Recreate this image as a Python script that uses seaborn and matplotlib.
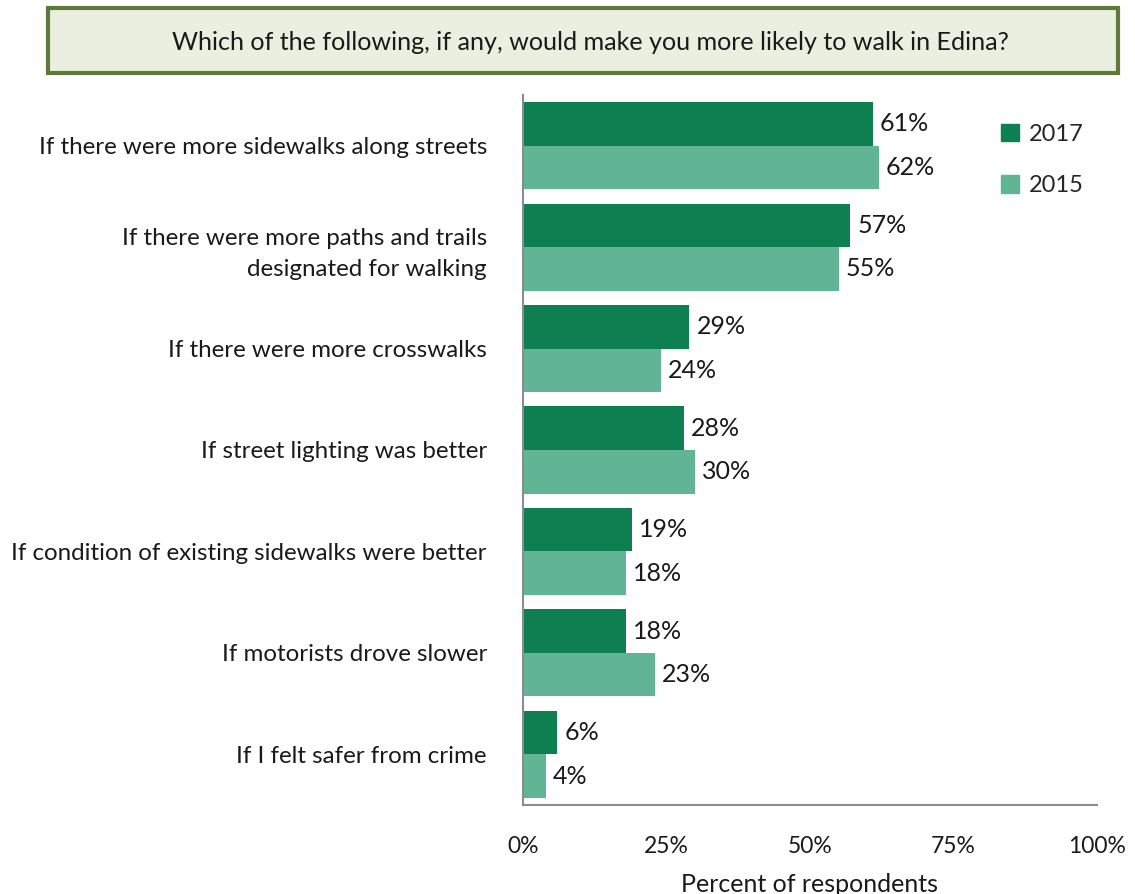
import matplotlib
matplotlib.use("Agg")
import matplotlib.pyplot as plt
import matplotlib.patches as mpatches
import seaborn as sns
import pandas as pd

categories = [
    "If there were more sidewalks along streets",
    "If there were more paths and trails\ndesignated for walking",
    "If there were more crosswalks",
    "If street lighting was better",
    "If condition of existing sidewalks were better",
    "If motorists drove slower",
    "If I felt safer from crime",
]
values_2017 = [61, 57, 29, 28, 19, 18, 6]
values_2015 = [62, 55, 24, 30, 18, 23, 4]
years = ["2017", "2015"]
colors = ["#0E7F50", "#62B594"]
x_ticks = [0, 25, 50, 75, 100]

df = pd.DataFrame({
    "category": categories * 2,
    "year": [years[0]] * len(categories) + [years[1]] * len(categories),
    "value": values_2017 + values_2015,
})

sns.set_theme(style="white")
plt.rcParams["font.family"] = ["Lato", "DejaVu Sans"]

TXT = "#1a1a1a"
fig = plt.figure(figsize=(11.35, 8.94), dpi=100)
ax = fig.add_axes([0.4608, 0.0996, 0.9665 - 0.4608, 0.8937 - 0.0996])

sns.barplot(
    data=df, y="category", x="value", hue="year", order=categories,
    hue_order=years, palette=colors, orient="h", width=0.86,
    saturation=1, ax=ax, legend=False, linewidth=0,
)

for container in ax.containers:
    ax.bar_label(container, fmt="%d%%", padding=5, fontsize=18, color=TXT)

ax.set_xlim(0, 100)
ax.set_ylim(len(categories) - 0.5, -0.5)
ax.set_xticks(x_ticks)
ax.set_xticklabels([f"{t}%" for t in x_ticks], fontsize=16.5, color=TXT)
ax.set_xlabel("Percent of respondents", fontsize=18, color=TXT, labelpad=12)
ax.set_ylabel("")

# category labels at centres, tick marks at category boundaries
ax.set_yticks(range(len(categories)))
ax.set_yticklabels(categories, fontsize=17.4, color=TXT, ha="right",
                   multialignment="right", linespacing=1.6)
ax.tick_params(axis="y", which="major", length=0, pad=26)
ax.set_yticks([i - 0.5 for i in range(len(categories) + 1)], minor=True)
ax.tick_params(axis="y", which="minor", length=6, width=1.5, color="#8c8c8c",
               direction="out")
ax.tick_params(axis="x", which="major", length=6, width=1.5, color="#8c8c8c",
               direction="out", pad=16)

for side in ["top", "right"]:
    ax.spines[side].set_visible(False)
for side in ["left", "bottom"]:
    ax.spines[side].set_color("#8c8c8c")
    ax.spines[side].set_linewidth(1.5)

handles = [mpatches.Patch(color=c, label=y) for c, y in zip(colors, years)]
ax.legend(handles=handles, loc="upper left", bbox_to_anchor=(0.816, 0.973),
          frameon=False, fontsize=17, handlelength=0.75, handleheight=0.75,
          labelspacing=1.3, handletextpad=0.45, borderaxespad=0)

# question banner across the top
fig.text(590 / 1135, 1 - 42 / 894, "Which of the following, if any, would make you more likely to walk in Edina?",
         ha="center", va="center", fontsize=18.1, color=TXT)
banner = mpatches.Rectangle((48 / 1135, 1 - 73 / 894), (1118 - 48) / 1135, 65 / 894,
                            transform=fig.transFigure, facecolor="#EBEFDF",
                            edgecolor="#5E7A3A", linewidth=3, zorder=-1)
fig.patches.append(banner)

fig.savefig("out.png", dpi=100)
